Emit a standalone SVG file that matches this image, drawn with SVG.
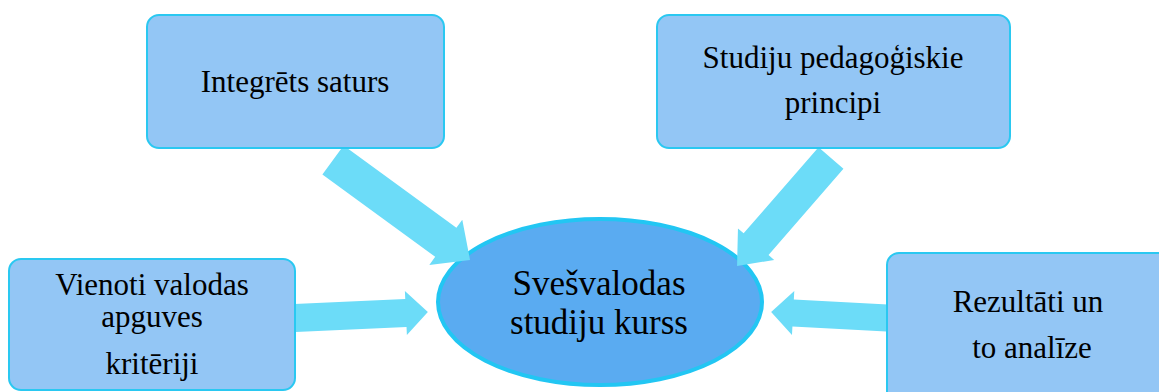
<svg xmlns="http://www.w3.org/2000/svg" width="1159" height="392" viewBox="0 0 1159 392">
  <style>
    .box { fill: #93c6f5; stroke: #2ac8f1; stroke-width: 2; }
    .hub { fill: #5aabf1; stroke: #22c6f3; stroke-width: 4; }
    .arrow { fill: #6cdcf8; stroke: none; }
    text { font-family: "Liberation Serif", "Times New Roman", serif; fill: #000; text-anchor: middle; }
    .lbl { font-size: 31px; }
    .hubl { font-size: 35px; }
  </style>
  <rect width="1159" height="392" fill="#ffffff"/>

  <!-- central ellipse -->
  <g id="node-kurss">
    <ellipse class="hub" cx="600" cy="302" rx="162" ry="83"/>
    <text class="hubl" x="599" y="295">Svešvalodas</text>
    <text class="hubl" x="599" y="334">studiju kurss</text>
  </g>

  <!-- block arrows pointing at the central ellipse -->
  <g id="connectors">
    <!-- from "Integrēts saturs" -->
    <polygon class="arrow" transform="translate(333,160) rotate(36.1)"
      points="0,-18 139.6,-18 139.6,-28 169.6,0 139.6,28 139.6,18 0,18"/>
    <!-- from "Studiju pedagoģiskie principi" -->
    <polygon class="arrow" transform="translate(831,158) rotate(131)"
      points="0,-16.5 114.2,-16.5 114.2,-24 143.2,0 114.2,24 114.2,16.5 0,16.5"/>
    <!-- from "Vienoti valodas apguves kritēriji" -->
    <polygon class="arrow" transform="translate(295,318) rotate(-2.6)"
      points="0,-14 111,-14 111,-22 133,0 111,22 111,14 0,14"/>
    <!-- from "Rezultāti un to analīze" -->
    <polygon class="arrow" transform="translate(887,318) rotate(183)"
      points="0,-13.5 94,-13.5 94,-22 116,0 94,22 94,13.5 0,13.5"/>
  </g>

  <g id="node-saturs">
    <rect class="box" x="147" y="15" width="297" height="133" rx="12"/>
    <text class="lbl" x="295" y="92">Integrēts saturs</text>
  </g>

  <g id="node-principi">
    <rect class="box" x="657" y="15" width="353" height="133" rx="12"/>
    <text class="lbl" x="833" y="68">Studiju pedagoģiskie</text>
    <text class="lbl" x="833" y="113">principi</text>
  </g>

  <g id="node-kriteriji">
    <rect class="box" x="9" y="259" width="286" height="131" rx="12"/>
    <text class="lbl" x="152" y="295">Vienoti valodas</text>
    <text class="lbl" x="152" y="327">apguves</text>
    <text class="lbl" x="152" y="374">kritēriji</text>
  </g>

  <g id="node-rezultati">
    <rect class="box" x="887" y="253" width="300" height="160" rx="12"/>
    <text class="lbl" x="1028" y="312">Rezultāti un</text>
    <text class="lbl" x="1032" y="358">to analīze</text>
  </g>
</svg>
